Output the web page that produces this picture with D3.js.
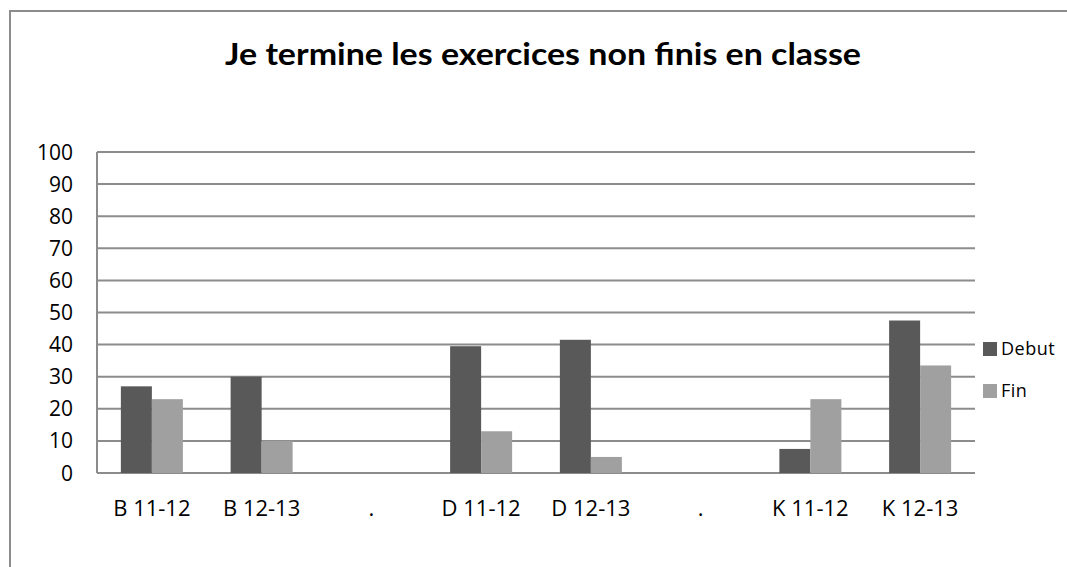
<!DOCTYPE html>
<html>
<head>
<meta charset="utf-8">
<script src="https://cdn.jsdelivr.net/npm/d3@7"></script>
<style>
  html, body { margin: 0; background: #fff; overflow: hidden; }
  svg { display: block; }
  text { font-family: "Open Sans", sans-serif; fill: #000; }
</style>
</head>
<body>
<script>
const categories = ["B 11-12", "B 12-13", ".", "D 11-12", "D 12-13", ".", "K 11-12", "K 12-13"]
const debut = [27, 30, null, 39.5, 41.5, null, 7.5, 47.5]
const fin = [23, 10, null, 13, 5, null, 23, 33.5]
const yTicks = [0, 10, 20, 30, 40, 50, 60, 70, 80, 90, 100]
const seriesNames = ["Debut", "Fin"]
const colors = ["#595959", "#a0a0a0"]

const m = { width: 1067, height: 567 }
const plot = { left: 97, right: 975, top: 152, bottom: 473 }

const svg = d3.select("body").append('svg')
    .attr('width', m.width)
    .attr('height', m.height)

// chart frame (cut off on the right and bottom like the screenshot)
svg.append('path')
    .attr('d', 'M10,' + m.height + 'V11H' + m.width)
    .attr('fill', 'none')
    .attr('stroke', '#8c8c8c')
    .attr('stroke-width', 2)

svg.append('text')
    .attr('x', 543).attr('y', 65)
    .attr('text-anchor', 'middle')
    .style('font-family', 'Lato, sans-serif')
    .style('font-weight', 'bold')
    .style('font-size', '31px')
    .attr('textLength', 636)
    .attr('lengthAdjust', 'spacingAndGlyphs')
    .text('Je termine les exercices non finis en classe')

const x = d3.scaleBand()
    .domain(d3.range(categories.length))
    .range([plot.left, plot.right])
    .paddingInner(0.435)
    .paddingOuter(0.2175)

const xs = d3.scaleBand()
    .domain([0, 1])
    .range([0, x.bandwidth()])

const y = d3.scaleLinear()
    .domain([0, 100])
    .range([plot.bottom, plot.top])

// gridlines
svg.append('g')
    .selectAll('line')
    .data(yTicks)
    .enter()
    .append('line')
        .attr('x1', plot.left)
        .attr('x2', plot.right)
        .attr('y1', d => y(d))
        .attr('y2', d => y(d))
        .attr('stroke', '#8c8c8c')
        .attr('stroke-width', 2)

svg.append('line')
    .attr('x1', plot.left).attr('x2', plot.left)
    .attr('y1', plot.top).attr('y2', plot.bottom)
    .attr('stroke', '#8c8c8c')
    .attr('stroke-width', 2)

// y labels
svg.append('g')
    .selectAll('text')
    .data(yTicks)
    .enter()
    .append('text')
        .attr('x', 73)
        .attr('y', d => y(d))
        .attr('dy', '0.36em')
        .attr('text-anchor', 'end')
        .style('font-size', '21px')
        .text(d => d)

// bars
const series = [debut, fin]
series.forEach(function(vals, s) {
    svg.append('g')
        .selectAll('rect')
        .data(vals.map((v, i) => ({ v: v, i: i })).filter(d => d.v != null))
        .enter()
        .append('rect')
            .attr('x', d => x(d.i) + xs(s))
            .attr('y', d => y(d.v))
            .attr('width', xs.bandwidth())
            .attr('height', d => y(0) - y(d.v))
            .attr('fill', colors[s])
})

// x labels
svg.append('g')
    .selectAll('text')
    .data(categories)
    .enter()
    .append('text')
        .attr('x', (d, i) => x(i) + x.bandwidth() / 2)
        .attr('y', 516)
        .attr('text-anchor', 'middle')
        .style('font-size', '22px')
        .text(d => d)

// legend
const legend = svg.append('g')
    .selectAll('g')
    .data(seriesNames)
    .enter()
    .append('g')
        .attr('transform', (d, i) => 'translate(983,' + (342 + i * 42) + ')')

legend.append('rect')
    .attr('width', 14).attr('height', 14)
    .attr('fill', (d, i) => colors[i])

legend.append('text')
    .attr('x', 18).attr('y', 7)
    .attr('dy', '0.36em')
    .style('font-size', '18px')
    .style('letter-spacing', '0.5px')
    .text(d => d)
</script>
</body>
</html>
